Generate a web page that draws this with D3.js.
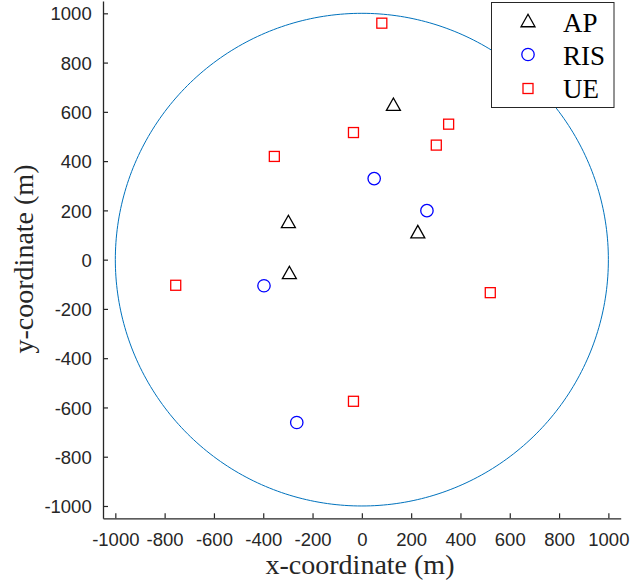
<!DOCTYPE html>
<html>
<head>
<meta charset="utf-8">
<script src="https://cdn.jsdelivr.net/npm/d3@7/dist/d3.min.js"></script>
<style>
  html, body { margin: 0; padding: 0; background: #fff; }
  svg { display: block; }
</style>
</head>
<body>
<svg id="chart" width="630" height="586"></svg>
<script>
// Node positions (m)
const apX = [128, -298, 227, -294];
const apY = [631, 155, 114, -52];
const risX = [50, 264, -397, -264];
const risY = [329, 199, -106, -661];
const ueX = [81, 352, -34, 302, -355, -755, 521, -34];
const ueY = [960, 550, 516, 465, 419, -104, -134, -575];
const cellRadius = 1000;
const tickValues = [-1000, -800, -600, -400, -200, 0, 200, 400, 600, 800, 1000];
const legendLabels = ["AP", "RIS", "UE"];

const svg = d3.select("#chart");
const axisColor = "#262626";

const x = d3.scaleLinear().domain([-1050, 1050]).range([103, 620.7]);
const y = d3.scaleLinear().domain([-1050, 1050]).range([518.3, 1]);

// Cell boundary
const circlePts = d3.range(0, 361).map(a => {
  const t = a * Math.PI / 180;
  return [cellRadius * Math.cos(t), cellRadius * Math.sin(t)];
});
svg.append("path")
  .datum(circlePts)
  .attr("d", d3.line().x(d => x(d[0])).y(d => y(d[1])))
  .attr("fill", "none")
  .attr("stroke", "#0072BD")
  .attr("stroke-width", 1);

// Axes with inward ticks, plain integer labels with ASCII hyphen
const fmt = v => String(v);
const xAxis = svg.append("g")
  .attr("transform", `translate(0,${y.range()[0]})`)
  .call(d3.axisBottom(x).tickValues(tickValues).tickFormat(fmt)
    .tickSizeInner(-5).tickSizeOuter(0).tickPadding(14.7));
const yAxis = svg.append("g")
  .attr("transform", `translate(${x.range()[0]},0)`)
  .call(d3.axisLeft(y).tickValues(tickValues).tickFormat(fmt)
    .tickSizeInner(-5).tickSizeOuter(0).tickPadding(11));

[xAxis, yAxis].forEach(g => {
  g.select(".domain").attr("stroke", axisColor).attr("stroke-width", 1.3);
  g.selectAll(".tick line").attr("stroke", axisColor).attr("stroke-width", 1.2);
  g.selectAll(".tick text")
    .attr("fill", axisColor)
    .style("font-family", "'Liberation Sans', Arial, sans-serif")
    .style("font-size", "18.5px");
});
xAxis.selectAll(".tick text").attr("dy", "0.71em");
yAxis.selectAll(".tick text").attr("x", -11.3).attr("dy", "0.36em");

// Axis titles
svg.append("text")
  .attr("x", 360).attr("y", 573.5)
  .attr("text-anchor", "middle")
  .attr("fill", axisColor)
  .style("font-family", "'Liberation Serif', 'Times New Roman', serif")
  .style("font-size", "28px")
  .text("x-coordinate (m)");
svg.append("text")
  .attr("transform", "translate(33,259) rotate(-90)")
  .attr("text-anchor", "middle")
  .attr("fill", axisColor)
  .style("font-family", "'Liberation Serif', 'Times New Roman', serif")
  .style("font-size", "28px")
  .text("y-coordinate (m)");

// Marker drawers
const triPath = (cx, cy) => {
  const h = 12.5, w = 14;
  return `M${cx},${cy - h / 2}L${cx + w / 2},${cy + h / 2}L${cx - w / 2},${cy + h / 2}Z`;
};
const drawTri = (sel, cx, cy) => sel.append("path")
  .attr("d", triPath(cx, cy))
  .attr("fill", "none").attr("stroke", "#000").attr("stroke-width", 1.3);
const drawCirc = (sel, cx, cy) => sel.append("circle")
  .attr("cx", cx).attr("cy", cy).attr("r", 6.2)
  .attr("fill", "none").attr("stroke", "#0000FF").attr("stroke-width", 1.3);
const drawSq = (sel, cx, cy) => sel.append("rect")
  .attr("x", cx - 5).attr("y", cy - 5).attr("width", 10).attr("height", 10)
  .attr("fill", "none").attr("stroke", "#FF0000").attr("stroke-width", 1.3);

const marks = svg.append("g");
apX.forEach((v, i) => drawTri(marks, x(v), y(apY[i])));
risX.forEach((v, i) => drawCirc(marks, x(v), y(risY[i])));
ueX.forEach((v, i) => drawSq(marks, x(v), y(ueY[i])));

// Legend
const lg = svg.append("g");
lg.append("rect")
  .attr("x", 491.5).attr("y", 2.5).attr("width", 122.5).attr("height", 105)
  .attr("fill", "#fff").attr("stroke", axisColor).attr("stroke-width", 1);
const drawers = [drawTri, drawCirc, drawSq];
legendLabels.forEach((lab, i) => {
  const cy = 20.5 + i * 34;
  drawers[i](lg, 528, cy);
  lg.append("text")
    .attr("x", 563).attr("y", 31.7 + i * 33.3)
    .attr("fill", "#000")
    .style("font-family", "'Liberation Serif', 'Times New Roman', serif")
    .style("font-size", "27px")
    .text(lab);
});
</script>
</body>
</html>
